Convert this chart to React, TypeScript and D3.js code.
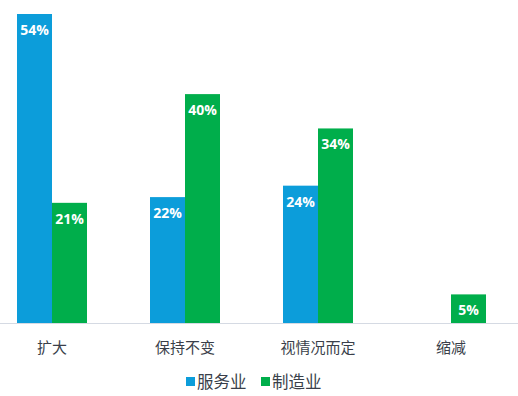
import React, { useEffect, useRef } from 'react';
import * as d3 from 'd3';

const categories = ['扩大', '保持不变', '视情况而定', '缩减'];
const seriesNames = ['服务业', '制造业'];
const serviceValues = [54, 22, 24, 0];
const manufacturingValues = [21, 40, 34, 5];
const colors = ['#0c9dda', '#00ae4b'];

const App: React.FC = () => {
  const svgRef = useRef<SVGSVGElement>(null);

  useEffect(() => {
    if (!svgRef.current) return;
    const width = 518;
    const height = 396;
    const baseline = 323;

    const svg = d3.select(svgRef.current);
    svg.selectAll('*').remove();
    svg.attr('width', width).attr('height', height);

    const x0 = d3.scaleBand<string>().domain(categories).range([-14.5, 517.5]).paddingInner(0.4737).paddingOuter(0.2368);
    const x1 = d3.scaleBand<string>().domain(seriesNames).range([0, x0.bandwidth()]);
    const y = d3.scaleLinear().domain([0, 54]).range([baseline, 14]);

    const data = categories.map((c, i) => ({
      cat: c,
      vals: [serviceValues[i], manufacturingValues[i]],
    }));

    const groups = svg.append('g')
      .selectAll('g')
      .data(data)
      .join('g')
      .attr('transform', d => `translate(${x0(d.cat)},0)`);

    groups.each(function (d) {
      const g = d3.select(this);
      d.vals.forEach((v, j) => {
        if (!v) return;
        const bx = x1(seriesNames[j]) as number;
        g.append('rect')
          .attr('x', bx)
          .attr('y', y(v))
          .attr('width', x1.bandwidth())
          .attr('height', baseline - y(v))
          .attr('fill', colors[j]);
        g.append('text')
          .attr('x', bx + x1.bandwidth() / 2)
          .attr('y', y(v) + 21)
          .attr('text-anchor', 'middle')
          .attr('fill', 'white')
          .attr('font-size', '14px')
          .attr('font-weight', 'bold')
          .attr('font-family', '"Open Sans", "DejaVu Sans", sans-serif')
          .text(`${v}%`);
      });
    });

    // axis line
    svg.append('line')
      .attr('x1', 0).attr('x2', width)
      .attr('y1', baseline + 0.5).attr('y2', baseline + 0.5)
      .attr('stroke', '#d5dae3')
      .attr('stroke-width', 1);

    // category labels
    svg.append('g')
      .selectAll('text')
      .data(categories)
      .join('text')
      .attr('x', d => (x0(d) as number) + x0.bandwidth() / 2)
      .attr('y', 353)
      .attr('text-anchor', 'middle')
      .attr('fill', '#3a3f4a')
      .attr('font-size', '15px')
      .attr('font-family', '"Noto Sans CJK SC", sans-serif')
      .text(d => d);

    // legend
    const legendX = [186, 261];
    const legend = svg.append('g');
    seriesNames.forEach((name, j) => {
      legend.append('rect')
        .attr('x', legendX[j]).attr('y', 377)
        .attr('width', 9).attr('height', 9)
        .attr('fill', colors[j]);
      legend.append('text')
        .attr('x', legendX[j] + 11)
        .attr('y', 388)
        .attr('fill', '#3a3f4a')
        .attr('font-size', '16.5px')
        .attr('font-family', '"Noto Sans CJK SC", sans-serif')
        .text(name);
    });
  }, []);

  return <svg ref={svgRef} style={{ position: 'absolute', left: 0, top: 0 }} />;
};

export default App;
